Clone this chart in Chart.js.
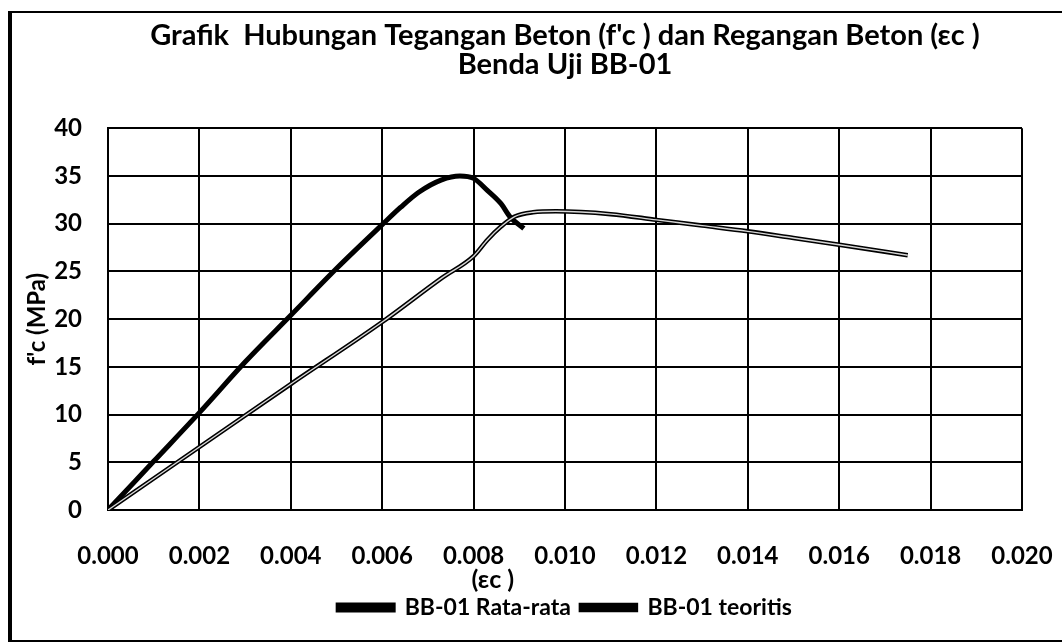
<!DOCTYPE html>
<html>
<head>
<meta charset="utf-8">
<script src="https://cdn.jsdelivr.net/npm/chart.js@4.4.1/dist/chart.umd.min.js"></script>
<style>
    body { margin: 0; background: #fff; overflow: hidden; }
    #frame { position: absolute; left: 8px; top: 11px; width: 1100px; height: 627px; border: 2px solid #000; border-left-width: 4px; }
    #wrap { position: absolute; left: 0; top: 0; width: 1062px; height: 643px; }
</style>
</head>
<body>
<div id="frame"></div>
<div id="wrap"><canvas id="ctx_bb01"></canvas></div>
<script>
// BB-01 test average curve (strain, stress in MPa)
const strainAvg = [0, 0.001, 0.002, 0.003, 0.004, 0.005, 0.006, 0.0064, 0.0068, 0.0073, 0.0077, 0.0080, 0.0083, 0.0086, 0.0088, 0.0091];
const stressAvg = [0, 5.1, 10.2, 15.5, 20.4, 25.3, 29.9, 31.7, 33.3, 34.6, 35.0, 34.75, 33.5, 32.1, 30.7, 29.5];

// BB-01 theoretical curve
const strainTheory = [0, 0.002, 0.004, 0.006, 0.0073, 0.008, 0.0083, 0.0086, 0.0089, 0.0093, 0.0098, 0.011, 0.012, 0.013, 0.014, 0.015, 0.016, 0.0175];
const stressTheory = [0, 6.6, 13.2, 19.7, 24.3, 26.6, 28.3, 29.7, 30.75, 31.2, 31.3, 31.0, 30.4, 29.8, 29.2, 28.5, 27.8, 26.7];

const seriesNames = ['BB-01 Rata-rata', 'BB-01 teoritis'];
const yTicks = [0, 5, 10, 15, 20, 25, 30, 35, 40];
const xTicks = [0, 0.002, 0.004, 0.006, 0.008, 0.010, 0.012, 0.014, 0.016, 0.018, 0.020];

const toPoints = (xs, ys) => xs.map((x, i) => ({ x: x, y: ys[i] }));

const FONT = 'Lato';

// x axis title sits left of centre, like the spreadsheet layout
const strainTitle = {
    id: 'strainTitle',
    afterDraw(chart) {
        const area = chart.chartArea;
        const c = chart.ctx;
        c.save();
        c.font = 'bold 25px ' + FONT;
        c.fillStyle = 'black';
        c.textAlign = 'center';
        c.textBaseline = 'middle';
        c.fillText('(εc )', area.left + (area.right - area.left) * 0.421, area.bottom + 70);
        c.restore();
    }
};

const ctx_bb01 = document.getElementById('ctx_bb01');

new Chart(ctx_bb01, {
    type: 'line',
    data: {
        datasets: [{
            label: seriesNames[0],
            data: toPoints(strainAvg, stressAvg),
            borderWidth: 5,
            cubicInterpolationMode: 'monotone',
            pointRadius: 0,
            borderColor: 'black',
            backgroundColor: 'black',
            order: 3
        },
        {
            label: seriesNames[1],
            data: toPoints(strainTheory, stressTheory),
            borderWidth: 4.5,
            cubicInterpolationMode: 'monotone',
            pointRadius: 0,
            borderColor: 'black',
            backgroundColor: 'black',
            order: 2
        },
        {
            // light core of the theoretical line
            label: seriesNames[1],
            data: toPoints(strainTheory, stressTheory),
            borderWidth: 1.4,
            cubicInterpolationMode: 'monotone',
            pointRadius: 0,
            borderColor: '#d8d8d8',
            order: 1
        }]
    },
    options: {
        responsive: true,
        maintainAspectRatio: false,
        animation: false,
        layout: {
            padding: { left: 10, right: 40, top: 0, bottom: 14 }
        },
        scales: {
            x: {
                type: 'linear',
                min: 0,
                max: 0.02,
                afterFit: (s) => {
                    s.height = 76;
                    s.paddingLeft = 0;
                    s.paddingRight = 0;
                },
                afterBuildTicks: (s) => { s.ticks = xTicks.map(v => ({ value: v })); },
                grid: {
                    display: true,
                    drawTicks: false,
                    color: 'black',
                    lineWidth: 2
                },
                border: { color: 'black', width: 2 },
                ticks: {
                    padding: 32,
                    color: 'black',
                    font: { family: FONT, size: 24, weight: 'bold' },
                    maxRotation: 0,
                    callback: (v) => Number(v).toFixed(3)
                }
            },
            y: {
                min: 0,
                max: 40,
                afterFit: (s) => { s.width = 98; },
                afterBuildTicks: (s) => { s.ticks = yTicks.map(v => ({ value: v })); },
                grid: {
                    display: true,
                    drawTicks: false,
                    color: 'black',
                    lineWidth: 2
                },
                border: { color: 'black', width: 2 },
                ticks: {
                    padding: 26,
                    color: 'black',
                    font: { family: FONT, size: 24, weight: 'bold' }
                },
                title: {
                    display: true,
                    text: "f'c (MPa)",
                    color: 'black',
                    font: { family: FONT, size: 24, weight: 'bold' },
                    padding: { top: 13, bottom: 0 }
                }
            }
        },
        plugins: {
            title: {
                display: true,
                fullSize: false,
                text: ['Grafik  Hubungan Tegangan Beton (f\'c ) dan Regangan Beton (εc )', 'Benda Uji BB-01'],
                color: 'black',
                font: { family: FONT, size: 29, weight: 'bold', lineHeight: 0.97 },
                padding: { top: 22, bottom: 50 }
            },
            legend: {
                display: true,
                position: 'bottom',
                fullSize: false,
                labels: {
                    color: 'black',
                    font: { family: FONT, size: 23, weight: 'bold' },
                    boxWidth: 55,
                    boxHeight: 5,
                    padding: 10,
                    filter: (item) => item.datasetIndex < 2,
                    sort: (a, b) => a.datasetIndex - b.datasetIndex
                }
            },
            tooltip: { enabled: false }
        }
    },
    plugins: [strainTitle]
});
</script>
</body>
</html>
